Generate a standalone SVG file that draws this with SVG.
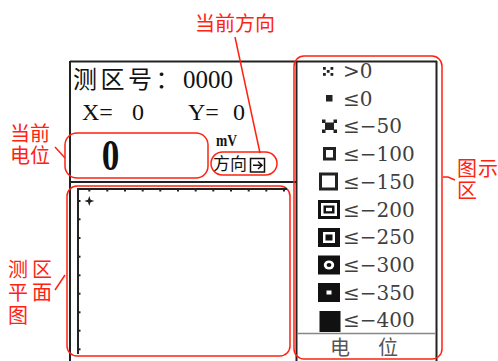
<svg xmlns="http://www.w3.org/2000/svg" width="498" height="361" viewBox="0 0 498 361">
<defs>
<style>
.frame{stroke:#222;stroke-width:2;fill:none}
.red{stroke:#f21;stroke-width:1.5;fill:none}
.redtxt{fill:#f21;font-family:"Noto Sans CJK SC",sans-serif;font-size:20px}
.cjk{font-family:"Noto Sans CJK SC",sans-serif;fill:#111}
.ser{font-family:"Liberation Serif",serif;fill:#111}
.lg{font-family:"DejaVu Serif","Liberation Serif",serif;font-size:20px;fill:#404040}
.tick{fill:#222}
</style>
</defs>
<rect width="498" height="361" fill="#fff"/>

<g id="frame">
<line class="frame" x1="70" y1="61.5" x2="437" y2="61.5"/>
<line class="frame" x1="70" y1="61" x2="70" y2="361"/>
<line class="frame" x1="296.5" y1="61" x2="296.5" y2="361"/>
<line class="frame" x1="436.5" y1="61" x2="436.5" y2="361"/>
<line class="frame" x1="70" y1="182" x2="296" y2="182"/>
</g>

<g id="header">
<text class="cjk" x="73" y="87.5" font-size="24" letter-spacing="3.5">测区号：</text>
<text class="ser" x="183" y="87.5" font-size="25">0000</text>
<text class="ser" x="82" y="120" font-size="24">X=</text>
<text class="ser" x="132" y="120" font-size="24">0</text>
<text class="ser" x="188" y="120" font-size="24">Y=</text>
<text class="ser" x="233" y="120" font-size="24">0</text>
</g>

<g id="potential">
<rect class="red" x="65" y="133" width="143" height="45" rx="12"/>
<text class="ser" font-weight="bold" font-size="44" text-anchor="middle" transform="translate(110.5,170) scale(0.8,1)">0</text>
</g>

<g id="direction">
<text class="ser" x="216" y="146" font-size="16" font-weight="bold" textLength="21" lengthAdjust="spacingAndGlyphs">mV</text>
<text class="cjk" x="213" y="170" font-size="17">方向</text>
<rect x="250.5" y="158.5" width="14" height="13.5" fill="none" stroke="#111" stroke-width="1.5"/>
<path d="M253,165.2 H262 M258,161.5 L262,165.2 L258,169" fill="none" stroke="#111" stroke-width="1.5"/>
<rect class="red" x="211" y="152" width="66" height="23" rx="11.5"/>
</g>

<g id="plot">
<rect class="red" x="67" y="186" width="223" height="170" rx="10"/>
<line class="frame" x1="78" y1="189" x2="287" y2="189"/>
<line class="frame" x1="78" y1="188" x2="78" y2="354"/>
<g class="tick">
<rect x="88.3" y="189" width="2" height="2.5"/><rect x="106.3" y="189" width="2" height="2.5"/><rect x="124" y="189" width="2" height="2.5"/><rect x="141.7" y="189" width="2" height="2.5"/><rect x="159.3" y="189" width="2" height="2.5"/><rect x="177" y="189" width="2" height="2.5"/><rect x="194.7" y="189" width="2" height="2.5"/><rect x="212.3" y="189" width="2" height="2.5"/><rect x="230" y="189" width="2" height="2.5"/><rect x="247.7" y="189" width="2" height="2.5"/><rect x="265.3" y="189" width="2" height="2.5"/><rect x="283" y="189" width="2" height="2.5"/>
<rect x="78" y="200" width="2.5" height="2"/><rect x="78" y="218.3" width="2.5" height="2"/><rect x="78" y="237" width="2.5" height="2"/><rect x="78" y="255.7" width="2.5" height="2"/><rect x="78" y="274.3" width="2.5" height="2"/><rect x="78" y="292.7" width="2.5" height="2"/><rect x="78" y="311.3" width="2.5" height="2"/><rect x="78" y="329.7" width="2.5" height="2"/><rect x="78" y="348.3" width="2.5" height="2"/>
</g>
<path d="M89.3,196 L90.6,199.7 L94.3,201 L90.6,202.3 L89.3,206 L88,202.3 L84.3,201 L88,199.7 Z" fill="#222"/>
</g>

<g id="legend">
<rect class="red" x="294" y="56" width="148" height="303" rx="10"/>
<line x1="297" y1="333.5" x2="436" y2="333.5" stroke="#888" stroke-width="1.5"/>
<g fill="#222">
<rect x="323" y="67" width="2.8" height="2.8"/><rect x="330.5" y="67" width="2.8" height="2.8"/><rect x="326.8" y="70" width="2.8" height="2.8"/><rect x="323" y="73" width="2.8" height="2.8"/><rect x="330.5" y="73" width="2.8" height="2.8"/>
<rect x="326" y="95" width="6.5" height="6.5"/>
<rect x="322" y="119.5" width="3.5" height="3.5"/><rect x="333.5" y="119.5" width="3.5" height="3.5"/><rect x="322" y="129.5" width="3.5" height="3.5"/><rect x="333.5" y="129.5" width="3.5" height="3.5"/><rect x="325" y="122.5" width="9" height="7.5"/>
</g>
<rect x="324.5" y="148.5" width="10" height="10.5" fill="none" stroke="#222" stroke-width="3"/>
<rect x="320.5" y="174" width="16" height="15" fill="none" stroke="#222" stroke-width="3"/>
<rect x="318" y="200" width="22" height="19" fill="#111"/><rect x="321" y="203" width="16" height="13" fill="#fff"/><rect x="323.5" y="205.5" width="11" height="8" fill="#111"/><rect x="326" y="207.8" width="6" height="3.4" fill="#fff"/>
<rect x="318" y="228" width="22" height="19" fill="#111"/><rect x="323" y="232" width="12" height="11" fill="#fff"/><rect x="325.5" y="234.5" width="7" height="6" fill="#111"/>
<rect x="318" y="255.5" width="22" height="19" fill="#111"/><ellipse cx="329" cy="265" rx="5.2" ry="4.6" fill="#fff"/><ellipse cx="329" cy="265" rx="2.4" ry="2" fill="#111"/>
<rect x="318" y="283" width="22" height="19" fill="#111"/><rect x="326.5" y="290.5" width="5" height="4" fill="#fff"/>
<rect x="319.5" y="311" width="21" height="21" fill="#111"/>
<text class="lg" x="343" y="78">&gt;0</text>
<text class="lg" x="343" y="105.7">≤0</text>
<text class="lg" x="343" y="133.4">≤−50</text>
<text class="lg" x="343" y="161.1">≤−100</text>
<text class="lg" x="343" y="188.8">≤−150</text>
<text class="lg" x="343" y="216.5">≤−200</text>
<text class="lg" x="343" y="244.2">≤−250</text>
<text class="lg" x="343" y="271.9">≤−300</text>
<text class="lg" x="343" y="299.6">≤−350</text>
<text class="lg" x="343" y="327.3">≤−400</text>
<text x="330" y="355" font-family="Noto Sans CJK SC,sans-serif" font-size="20" fill="#555">电<tspan x="378">位</tspan></text>
</g>

<g id="label-direction"><text class="redtxt" x="195" y="31">当前方向</text></g>
<g id="label-potential"><text class="redtxt" x="10" y="141">当前<tspan x="10" y="163">电位</tspan></text></g>
<g id="label-plot"><text class="redtxt" x="8" y="277" font-size="19px" letter-spacing="4">测区<tspan x="8" y="300">平面</tspan><tspan x="8" y="323">图</tspan></text></g>
<g id="label-legend"><text class="redtxt" x="457" y="176" font-size="18px" letter-spacing="1">图示<tspan x="457" y="198">区</tspan></text></g>

<g id="connectors" class="red">
<line x1="235" y1="37" x2="260" y2="153"/>
<line x1="55" y1="147" x2="65" y2="158"/>
<line x1="55" y1="290" x2="65" y2="275"/>
<path d="M443,177 L448,177 L455,180"/>
</g>
</svg>
